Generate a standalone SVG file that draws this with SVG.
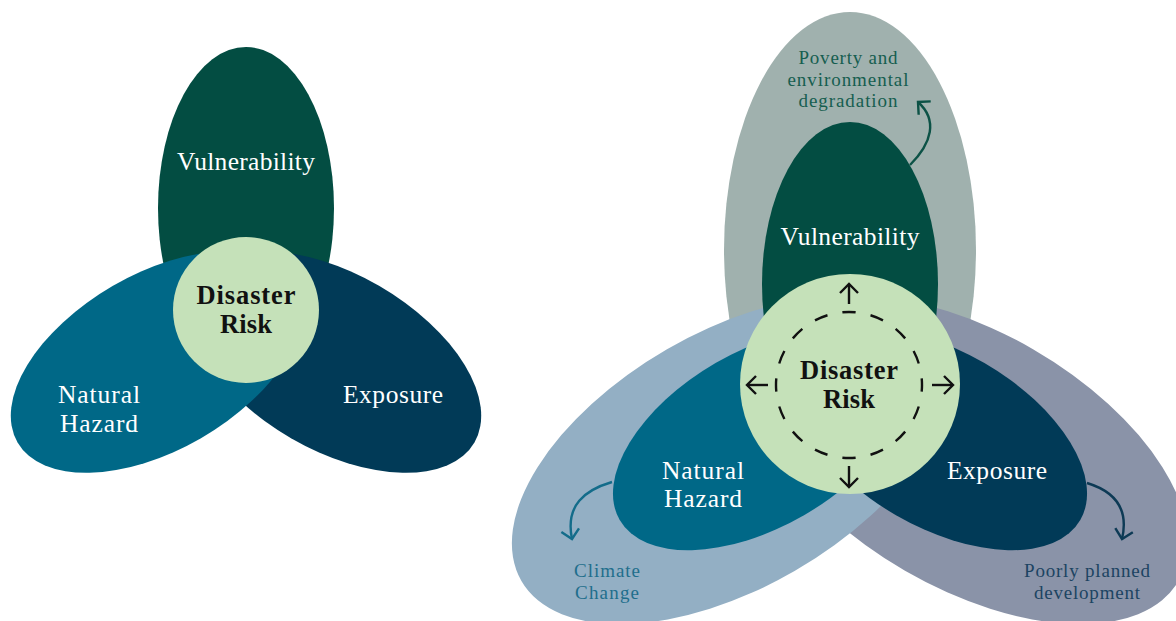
<svg xmlns="http://www.w3.org/2000/svg" width="1176" height="621" viewBox="0 0 1176 621">
  <style>
    .vul { fill: #034d42; }
    .haz { fill: #006887; }
    .exp { fill: #013a57; }
    .vul-o { fill: #a0b1ae; }
    .haz-o { fill: #93afc4; }
    .exp-o { fill: #8a93a8; }
    .core { fill: #c5e1b9; }
    .lbl { font-family: "Liberation Serif", "Times New Roman", serif; font-size: 25.5px; fill: #ffffff; text-anchor: middle; }
    .core-lbl { font-family: "Liberation Serif", "Times New Roman", serif; font-size: 26.5px; font-weight: bold; fill: #111111; text-anchor: middle; }
    .note { font-family: "Liberation Serif", "Times New Roman", serif; font-size: 19px; text-anchor: middle; }
    .ring { fill: none; stroke: #111111; stroke-width: 2.4; stroke-dasharray: 0.47 0.53; stroke-dashoffset: 0.235; }
    .arr { fill: none; stroke-width: 2.4; stroke-linecap: butt; }
  </style>
  <defs>
    <marker id="tip-black" viewBox="-12 -12 24 24" refX="0" refY="0" markerWidth="24" markerHeight="24" markerUnits="userSpaceOnUse" orient="auto" overflow="visible">
      <path d="M-9,-9 L0,0 L-9,9" fill="none" stroke="#111111" stroke-width="2.4"/>
    </marker>
    <marker id="tip-green" viewBox="-12 -12 24 24" refX="0" refY="0" markerWidth="24" markerHeight="24" markerUnits="userSpaceOnUse" orient="auto" overflow="visible">
      <path d="M-9,-9 L0,0 L-9,9" fill="none" stroke="#0c5246" stroke-width="2.4"/>
    </marker>
    <marker id="tip-teal" viewBox="-12 -12 24 24" refX="0" refY="0" markerWidth="24" markerHeight="24" markerUnits="userSpaceOnUse" orient="auto" overflow="visible">
      <path d="M-9,-9 L0,0 L-9,9" fill="none" stroke="#136c8a" stroke-width="2.4"/>
    </marker>
    <marker id="tip-navy" viewBox="-12 -12 24 24" refX="0" refY="0" markerWidth="24" markerHeight="24" markerUnits="userSpaceOnUse" orient="auto" overflow="visible">
      <path d="M-9,-9 L0,0 L-9,9" fill="none" stroke="#0d3a55" stroke-width="2.4"/>
    </marker>
  </defs>

  <rect width="1176" height="621" fill="#ffffff"/>

  <!-- Left: simple three-petal model -->
  <g id="left-vulnerability">
    <ellipse class="vul" cx="246" cy="208" rx="88" ry="161"/>
  </g>
  <g id="left-exposure">
    <ellipse class="exp" cx="0" cy="0" rx="161" ry="88" transform="translate(335 362) rotate(30)"/>
  </g>
  <g id="left-hazard">
    <ellipse class="haz" cx="0" cy="0" rx="161" ry="88" transform="translate(157 362) rotate(-30)"/>
  </g>
  <g id="left-risk">
    <circle class="core" cx="246" cy="310" r="73"/>
  </g>
  <g id="left-labels">
    <text class="lbl" x="246" y="170" textLength="138" lengthAdjust="spacing">Vulnerability</text>
    <text class="lbl" x="99" y="403" textLength="82" lengthAdjust="spacing">Natural</text>
    <text class="lbl" x="99" y="432" textLength="78" lengthAdjust="spacing">Hazard</text>
    <text class="lbl" x="393" y="403" textLength="100" lengthAdjust="spacing">Exposure</text>
    <text class="core-lbl" x="246" y="304" textLength="99" lengthAdjust="spacing">Disaster</text>
    <text class="core-lbl" x="246" y="333" textLength="52" lengthAdjust="spacing">Risk</text>
  </g>

  <!-- Right: model with driving factors -->
  <g id="right-vulnerability-driver">
    <ellipse class="vul-o" cx="850" cy="250" rx="126" ry="238"/>
  </g>
  <g id="right-exposure-driver">
    <ellipse class="exp-o" cx="0" cy="0" rx="242" ry="128" transform="translate(969 460) rotate(30)"/>
  </g>
  <g id="right-hazard-driver">
    <ellipse class="haz-o" cx="0" cy="0" rx="242" ry="128" transform="translate(731 460) rotate(-30)"/>
  </g>
  <g id="right-vulnerability">
    <ellipse class="vul" cx="850" cy="284" rx="88" ry="162"/>
    <text class="lbl" x="850" y="245" textLength="139" lengthAdjust="spacing">Vulnerability</text>
  </g>
  <g id="right-exposure">
    <ellipse class="exp" cx="0" cy="0" rx="162" ry="88" transform="translate(940 439) rotate(30)"/>
    <text class="lbl" x="997" y="479" textLength="100" lengthAdjust="spacing">Exposure</text>
  </g>
  <g id="right-hazard">
    <ellipse class="haz" cx="0" cy="0" rx="162" ry="88" transform="translate(760 439) rotate(-30)"/>
    <text class="lbl" x="703" y="479" textLength="82" lengthAdjust="spacing">Natural</text>
    <text class="lbl" x="703" y="507" textLength="78" lengthAdjust="spacing">Hazard</text>
  </g>
  <g id="right-risk">
    <circle class="core" cx="850" cy="384" r="110"/>
    <circle class="ring" cx="849" cy="385" r="73" pathLength="16"/>
    <text class="core-lbl" x="849" y="379" textLength="98" lengthAdjust="spacing">Disaster</text>
    <text class="core-lbl" x="849" y="408" textLength="52" lengthAdjust="spacing">Risk</text>
  </g>
  <g id="driver-labels">
    <text class="note" fill="#165e50" x="848" y="64" textLength="99" lengthAdjust="spacing">Poverty and</text>
    <text class="note" fill="#165e50" x="848" y="86" textLength="121" lengthAdjust="spacing">environmental</text>
    <text class="note" fill="#165e50" x="848" y="107" textLength="99" lengthAdjust="spacing">degradation</text>
    <text class="note" fill="#1f6e8c" x="607" y="577" textLength="66" lengthAdjust="spacing">Climate</text>
    <text class="note" fill="#1f6e8c" x="607" y="599" textLength="64" lengthAdjust="spacing">Change</text>
    <text class="note" fill="#1c4462" x="1087" y="577" textLength="126" lengthAdjust="spacing">Poorly planned</text>
    <text class="note" fill="#1c4462" x="1087" y="599" textLength="106" lengthAdjust="spacing">development</text>
  </g>

  <g id="connectors">
    <!-- outward arrows from the risk core -->
    <path class="arr" stroke="#111111" marker-end="url(#tip-black)" d="M849,304 L849,284"/>
    <path class="arr" stroke="#111111" marker-end="url(#tip-black)" d="M849,466 L849,487"/>
    <path class="arr" stroke="#111111" marker-end="url(#tip-black)" d="M768,385 L747,385"/>
    <path class="arr" stroke="#111111" marker-end="url(#tip-black)" d="M932,385 L953,385"/>
    <!-- petals to their drivers -->
    <path class="arr" stroke="#0c5246" marker-end="url(#tip-green)" d="M910,165 C932,143 938,120 918,102"/>
    <path class="arr" stroke="#136c8a" marker-end="url(#tip-teal)" d="M612,482 C585,490 565,505 572,539"/>
    <path class="arr" stroke="#0d3a55" marker-end="url(#tip-navy)" d="M1087,483 C1110,490 1130,505 1122,539"/>
  </g>
</svg>
